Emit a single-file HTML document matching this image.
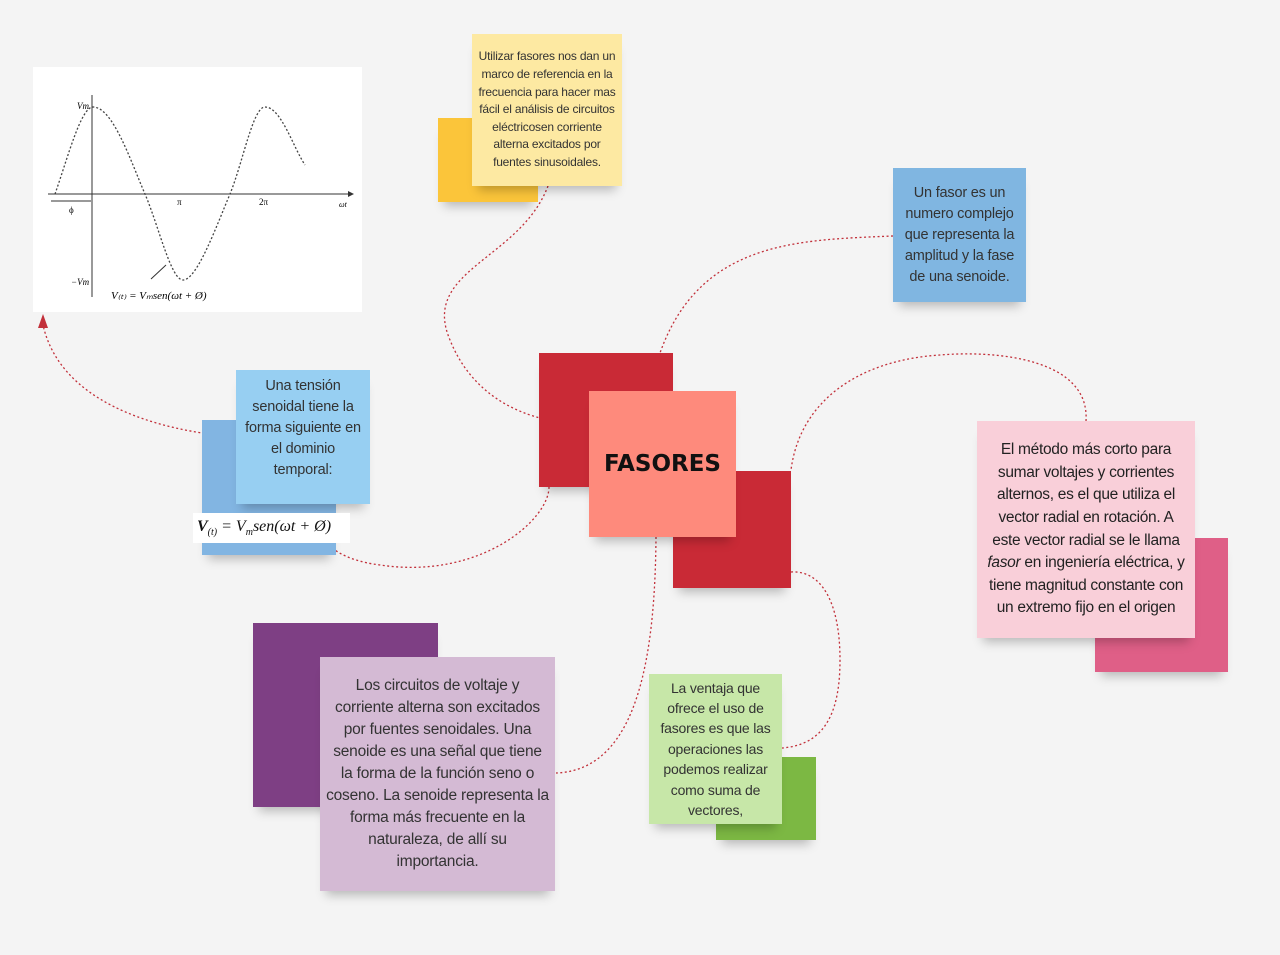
<!DOCTYPE html>
<html><head><meta charset="utf-8"><style>
body{margin:0;width:1280px;height:955px;background:#f4f4f4;position:relative;overflow:hidden;font-family:"Liberation Sans",sans-serif}
.b{position:absolute;box-sizing:border-box}
.s{box-shadow:0 10px 10px -6px rgba(0,0,0,.25)}
.t{display:flex;align-items:center;justify-content:center;text-align:center;color:#333}
.t>div{width:100%}
svg{position:absolute;left:0;top:0}
</style></head><body>
<svg width="1280" height="955" style="z-index:0">
<g fill="none" stroke="#c2303a" stroke-width="1.3" stroke-dasharray="2 2.5">
<path d="M548,186 C520,260 420,270 450,340 C470,390 510,410 540,418"/>
<path d="M893,236 C800,240 700,240 660,353"/>
<path d="M1086,421 C1090,360 1000,350 940,355 C860,360 800,400 791,470"/>
<path d="M791,572 C820,570 840,600 840,660 C840,720 820,745 782,748"/>
<path d="M656,537 C655,650 640,770 556,773"/>
<path d="M549,487 C549,520 480,580 380,565 C340,560 330,545 325,543"/>
<path d="M236,437 C150,430 60,400 43,325"/>
</g>
<polygon points="43,314 38,328 48,328" fill="#c2303a"/>
</svg>
<div class="b" style="left:33px;top:67px;width:329px;height:245px;background:#fff">
<svg width="329" height="245" viewBox="0 0 329 245">
<line x1="15" y1="127" x2="315" y2="127" stroke="#333"/><polygon points="315,124 315,130 321,127" fill="#333"/>
<line x1="59" y1="28" x2="59" y2="230" stroke="#333"/>
<path d="M22,127 C35,90 48,40 60,40 C80,40 98,95 112,127 C126,160 138,213 150,213 C164,213 183,160 197,127 C210,95 220,40 232,40 C248,40 260,80 272,98" fill="none" stroke="#444" stroke-width="1.3" stroke-dasharray="2 2"/>
<line x1="18" y1="134" x2="58" y2="134" stroke="#333"/>
<text x="44" y="42" font-size="9" font-family="Liberation Serif" font-style="italic">Vm</text>
<text x="38" y="218" font-size="9" font-family="Liberation Serif" font-style="italic">−Vm</text>
<text x="144" y="138" font-size="9" font-family="Liberation Serif">π</text>
<text x="226" y="138" font-size="9" font-family="Liberation Serif">2π</text>
<text x="306" y="140" font-size="8" font-family="Liberation Serif" font-style="italic">ωt</text>
<text x="36" y="146" font-size="9" font-family="Liberation Serif">ϕ</text>
<line x1="118" y1="212" x2="133" y2="198" stroke="#333"/>
<text x="78" y="232" font-size="11" font-family="Liberation Serif" font-style="italic">V₍ₜ₎ = Vₘsen(ωt + Ø)</text>
</svg></div>
<div class="b s" style="left:438px;top:118px;width:100px;height:84px;background:#fbc53a"></div>
<div class="b s t" style="left:472px;top:34px;width:150px;height:152px;background:#fde9a2;font-size:12px;line-height:17.6px;padding:0 6px;letter-spacing:-0.2px"><div>Utilizar fasores nos dan un marco de referencia en la frecuencia para hacer mas fácil el análisis de circuitos eléctricosen corriente alterna excitados por fuentes sinusoidales.</div></div>
<div class="b s t" style="left:893px;top:168px;width:133px;height:134px;background:#80b6e1;font-size:14.5px;line-height:21px;letter-spacing:-0.2px;padding:0 3px"><div>Un fasor es un numero complejo que representa la amplitud y la fase de una senoide.</div></div>
<div class="b s" style="left:539px;top:353px;width:134px;height:134px;background:#c92a36"></div>
<div class="b s" style="left:673px;top:471px;width:118px;height:117px;background:#c92a36"></div>
<div class="b s t" style="left:589px;top:391px;width:147px;height:146px;background:#fe8a7c;font-size:23px;color:#111;font-weight:bold;font-family:'DejaVu Sans',sans-serif"><div>FASORES</div></div>
<div class="b s" style="left:1095px;top:538px;width:133px;height:134px;background:#df5f87"></div>
<div class="b s t" style="left:977px;top:421px;width:218px;height:217px;background:#f9cfd9;font-size:15.5px;line-height:22.6px;color:#222;letter-spacing:-0.3px;padding:0 6px"><div>El método más corto para sumar voltajes y corrientes alternos, es el que utiliza el vector radial en rotación. A este vector radial se le llama <i>fasor</i> en ingeniería eléctrica, y tiene magnitud constante con un extremo fijo en el origen</div></div>
<div class="b s" style="left:202px;top:420px;width:134px;height:135px;background:#82b5e2"></div>
<div class="b s t" style="left:236px;top:370px;width:134px;height:134px;background:#97cff2;font-size:14.5px;line-height:21px;align-items:flex-start;padding:6px 4px 0;letter-spacing:-0.2px"><div>Una tensión senoidal tiene la forma siguiente en el dominio temporal:</div></div>
<div class="b" style="left:193px;top:513px;width:157px;height:30px;background:#fff;font-family:'Liberation Serif',serif;font-style:italic;font-size:16px;padding:5px 0 0 4px;color:#111"><b>V</b><sub style="font-size:10px">(t)</sub> = V<sub style="font-size:10px">m</sub>sen(ωt + Ø)</div>
<div class="b s" style="left:253px;top:623px;width:185px;height:184px;background:#7e3f84"></div>
<div class="b s t" style="left:320px;top:657px;width:235px;height:234px;background:#d4bad4;font-size:15.5px;line-height:22px;padding:0 6px;letter-spacing:-0.2px"><div>Los circuitos de voltaje y corriente alterna son excitados por fuentes senoidales. Una senoide es una señal que tiene la forma de la función seno o coseno. La senoide representa la forma más frecuente en la naturaleza, de allí su importancia.</div></div>
<div class="b s" style="left:716px;top:757px;width:100px;height:83px;background:#7cb843"></div>
<div class="b s t" style="left:649px;top:674px;width:133px;height:150px;background:#c7e7a8;font-size:14px;line-height:20.4px;padding:0 4px;letter-spacing:-0.2px"><div>La ventaja que ofrece el uso de fasores es que las operaciones las podemos realizar como suma de vectores,</div></div>
</body></html>
